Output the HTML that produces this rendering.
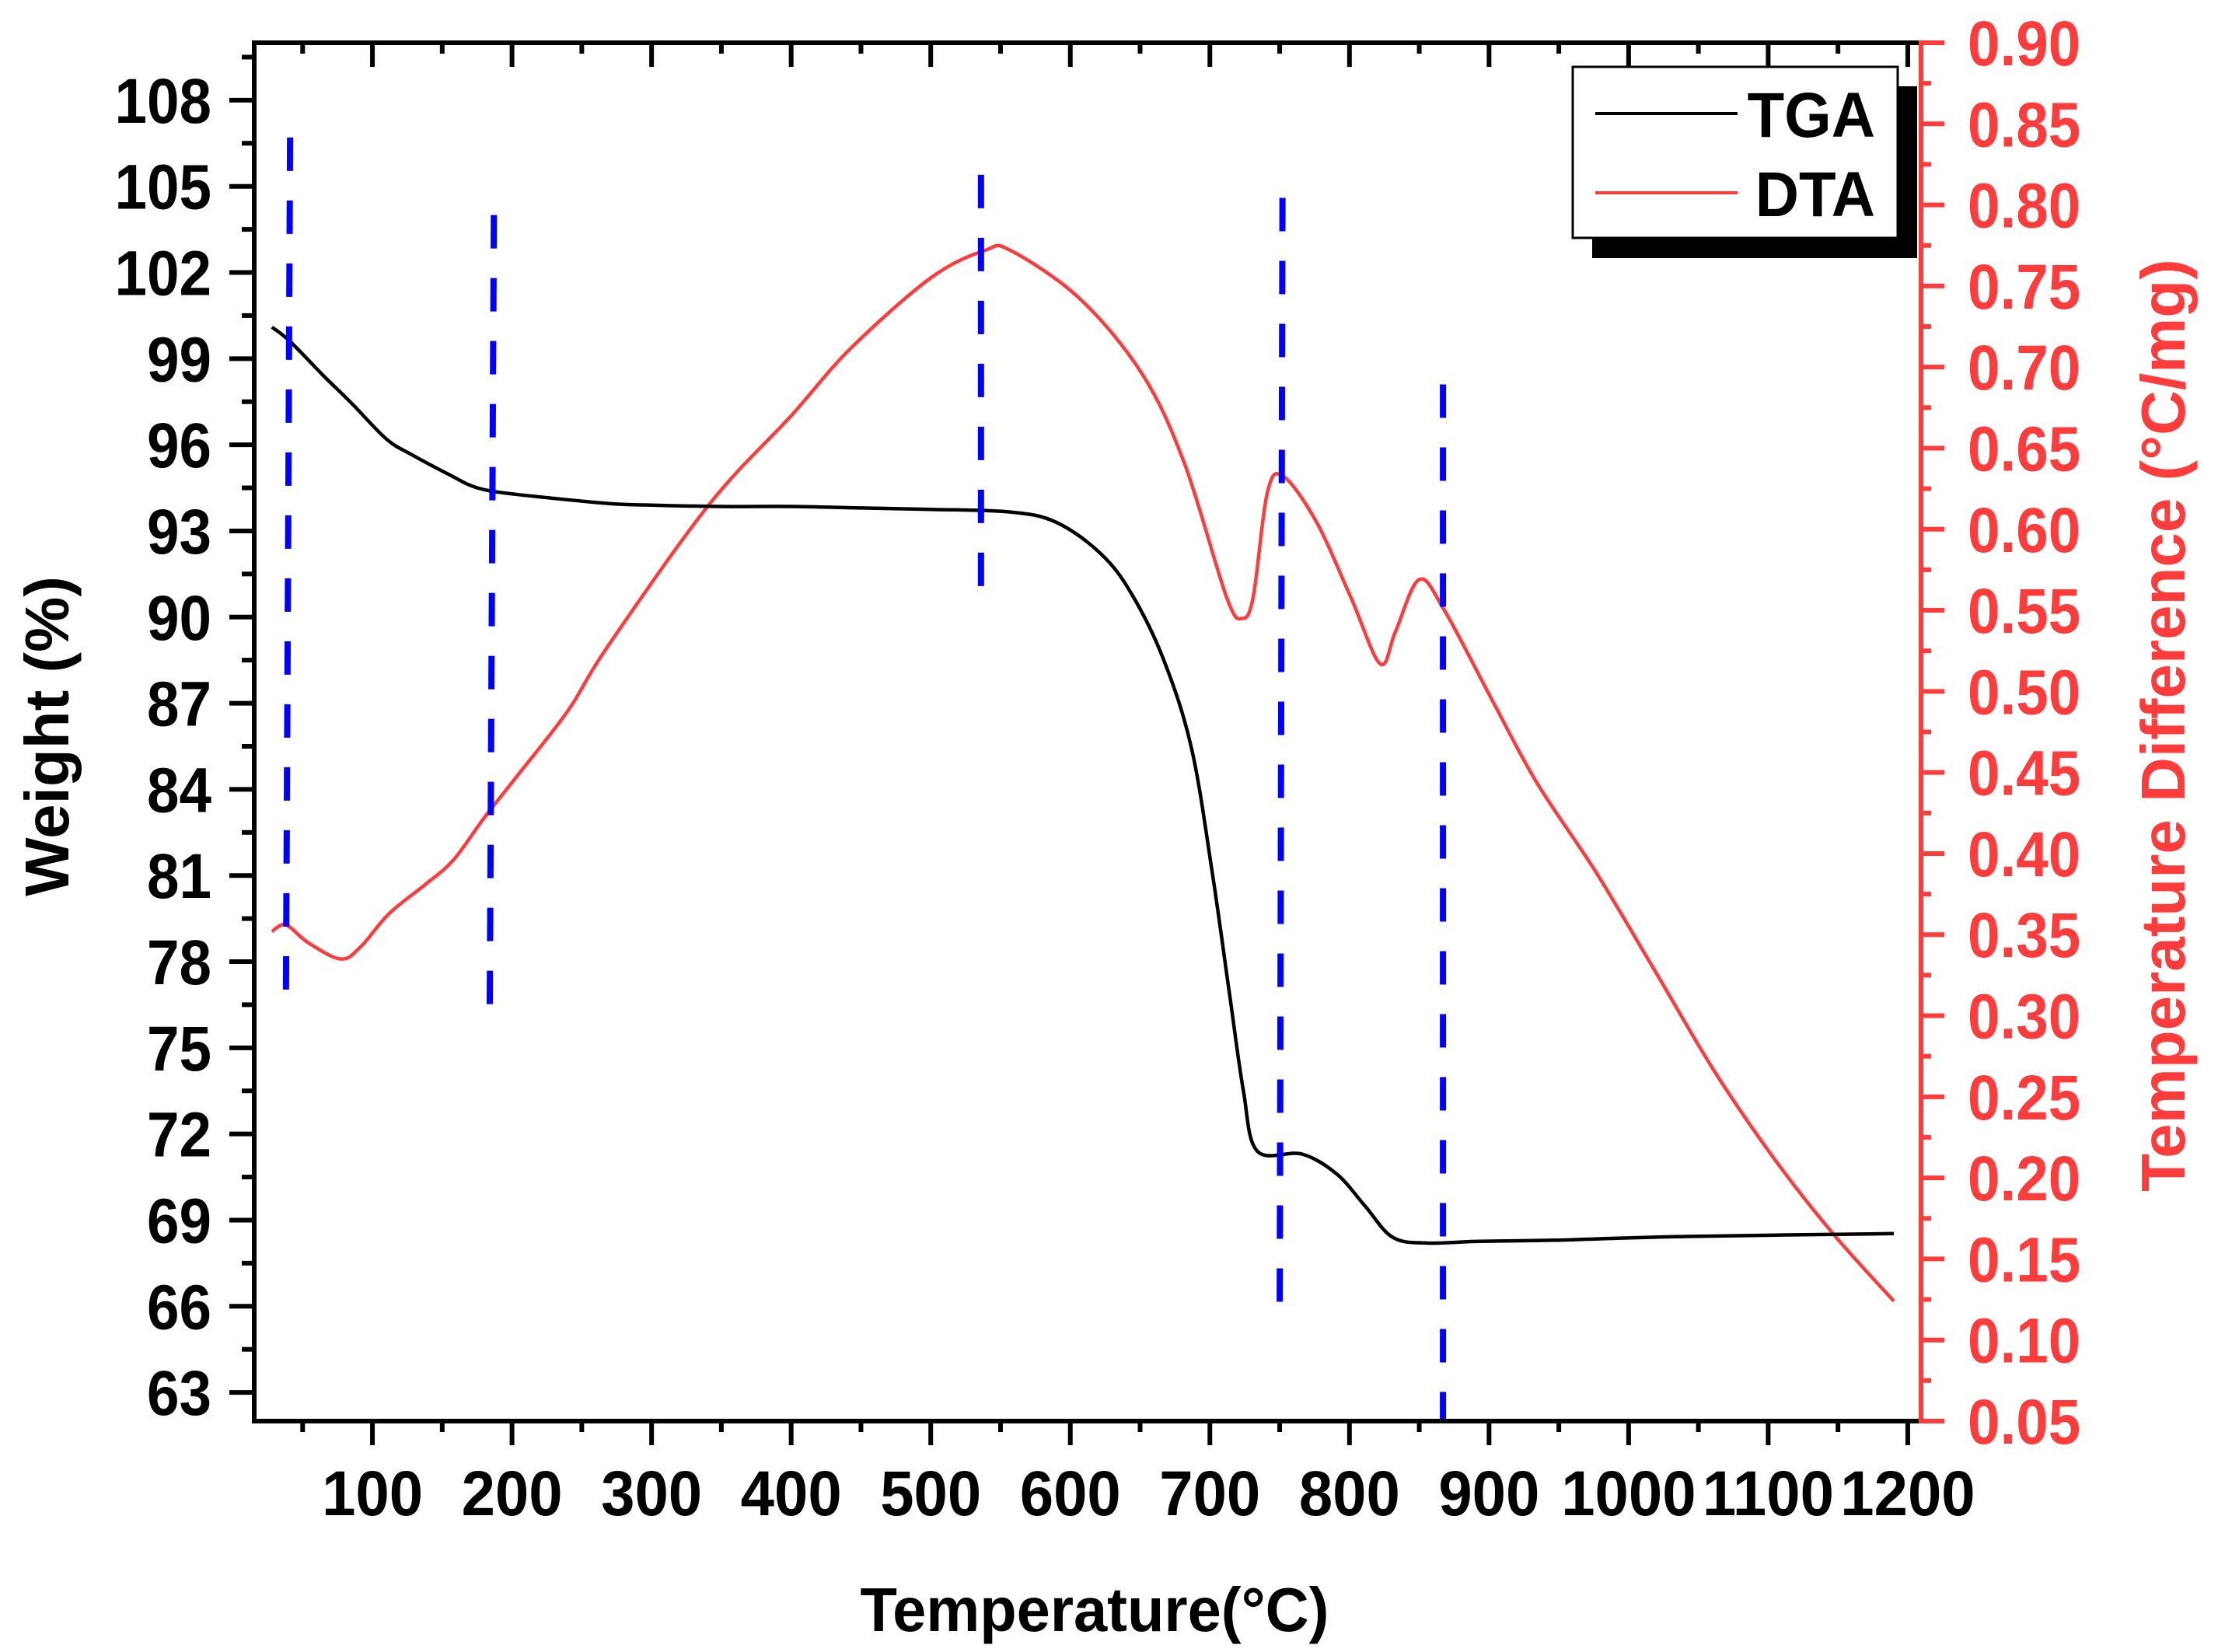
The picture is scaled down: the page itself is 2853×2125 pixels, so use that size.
<!DOCTYPE html>
<html><head><meta charset="utf-8"><style>
html,body{margin:0;padding:0;background:#fff;}
svg{display:block;font-family:"Liberation Sans",Arial,sans-serif;font-weight:bold;}
</style></head><body>
<svg id="chart" width="2853" height="2125" viewBox="0 0 2853 2125" xmlns="http://www.w3.org/2000/svg">
<g id="plot"></g>
</svg>
<script>
// ---- data ----
const tgaTemp = [28,41,65,85,110,128,155,175,202,268,300,350,400,450,500,557,590,622,644,667,687,702,714,724,734,766,791,811,831,856,892,947,1041,1190];
const tgaWeight = [100.1,99.6,98.4,97.45,96.2,95.66,94.96,94.5,94.28,93.96,93.9,93.85,93.85,93.8,93.75,93.66,93.3,92.2,90.8,88.5,85.4,81.0,76.9,73.5,71.4,71.3,70.6,69.5,68.4,68.2,68.26,68.3,68.43,68.53];
const dtaTemp = [28,38,54,77,91,112,138,158,180,202,240,268,341,400,442,500,539,557,607,652,682,712,723,731,741,752,776,801,822,833,850,868,902,934,977,1020,1062,1105,1147,1190];
const dtaValue = [0.352,0.356,0.345,0.335,0.342,0.363,0.381,0.396,0.422,0.446,0.488,0.527,0.615,0.67,0.711,0.755,0.772,0.772,0.742,0.695,0.640,0.558,0.545,0.558,0.622,0.633,0.605,0.558,0.517,0.537,0.569,0.550,0.495,0.444,0.388,0.326,0.265,0.211,0.165,0.124];
const markerTempTop = [41,187,536,752,867];
const markerTempBottom = [38,184,536,750,867];
const markerWTop = [106.7,104.0,105.4,104.6,98.1];
const markerWBottom = [76.5,76.0,90.9,65.5,62.0];
const xTicks = [100,200,300,400,500,600,700,800,900,1000,1100,1200];
const yLeftTicks = [63,66,69,72,75,78,81,84,87,90,93,96,99,102,105,108];
const yRightTicks = ["0.05","0.10","0.15","0.20","0.25","0.30","0.35","0.40","0.45","0.50","0.55","0.60","0.65","0.70","0.75","0.80","0.85","0.90"];
const legendLabels = ["TGA","DTA"];

// ---- layout ----
const L=327,R=2471,T=55,B=1828;
const XMIN=15.3,XMAX=1209.5,YMIN=62,YMAX=110,RMIN=0.05,RMAX=0.90;
const RED="#fe3c3c";
const sx=v=>L+(v-XMIN)/(XMAX-XMIN)*(R-L);
const sy=v=>B-(v-YMIN)/(YMAX-YMIN)*(B-T);
const sr=v=>B-(v-RMIN)/(RMAX-RMIN)*(B-T);
const NS="http://www.w3.org/2000/svg";
const g=document.getElementById('plot');
function el(tag,attrs){const e=document.createElementNS(NS,tag);for(const k in attrs)e.setAttribute(k,attrs[k]);g.appendChild(e);return e;}
function txt(x,y,s,anchor,size,color,sc){const e=el('text',{transform:`translate(${x},${y}) scale(${sc},1)`,'text-anchor':anchor,'font-size':size,fill:color});e.textContent=s;return e;}
function smooth(pts){
  let d='M'+pts[0][0].toFixed(1)+','+pts[0][1].toFixed(1);
  for(let i=0;i<pts.length-1;i++){
    const p0=pts[Math.max(0,i-1)],p1=pts[i],p2=pts[i+1],p3=pts[Math.min(pts.length-1,i+2)];
    const k=1/6;
    const c1=[p1[0]+(p2[0]-p0[0])*k,p1[1]+(p2[1]-p0[1])*k];
    const c2=[p2[0]-(p3[0]-p1[0])*k,p2[1]-(p3[1]-p1[1])*k];
    d+=`C${c1[0].toFixed(1)},${c1[1].toFixed(1)} ${c2[0].toFixed(1)},${c2[1].toFixed(1)} ${p2[0].toFixed(1)},${p2[1].toFixed(1)}`;
  }
  return d;
}

// DTA curve
const dta=el('path',{d:smooth(dtaTemp.map((t,i)=>[sx(t),sr(dtaValue[i])])),fill:'none',stroke:RED,'stroke-width':4.5,'stroke-linejoin':'round'});


// TGA curve
const tga=el('path',{d:smooth(tgaTemp.map((t,i)=>[sx(t),sy(tgaWeight[i])])),fill:'none',stroke:'#000','stroke-width':4.5,'stroke-linejoin':'round'});


// markers
markerTempTop.forEach((t,i)=>{
  const m=el('line',{x1:sx(t),y1:sy(markerWTop[i]),x2:sx(markerTempBottom[i]),y2:sy(markerWBottom[i]),stroke:'#0000ff','stroke-width':8,'stroke-dasharray':'43 38'});
  
  
});
// axes frame
const ax=el('path',{d:`M${L},${B}L${L},${T}L${R},${T}M${L-3},${B}L${R},${B}`,fill:'none',stroke:'#000','stroke-width':6});


const ra=el('line',{x1:R,y1:T-3,x2:R,y2:B+3,stroke:RED,'stroke-width':6});


// x ticks
for(let v=50;v<=1200;v+=50){
  const x=sx(v),maj=v%100===0,len=maj?31:14;
  el('line',{x1:x,y1:B,x2:x,y2:B+len,stroke:'#000','stroke-width':6});
  el('line',{x1:x,y1:T,x2:x,y2:T+len,stroke:'#000','stroke-width':6});
}
xTicks.forEach(v=>{const t=txt(sx(v),1949,String(v),'middle',82,'#000',0.95);
  
  });
// left ticks
for(let v=63;v<=109.5;v+=1.5){
  const y=sy(v),maj=Math.abs((v-63)%3)<1e-6,len=maj?32:16;
  el('line',{x1:L-len,y1:y,x2:L,y2:y,stroke:'#000','stroke-width':6});
}
yLeftTicks.forEach(v=>{const t=txt(272,sy(v)+29,String(v),'end',82,'#000',0.91);
  
  });
// right ticks
for(let k=0;k<=34;k++){
  const v=0.05+k*0.025,y=sr(v),len=k%2===0?30:13;
  el('line',{x1:R,y1:y,x2:R+len,y2:y,stroke:RED,'stroke-width':6});
}
yRightTicks.forEach(s=>{const t=txt(2531,sr(parseFloat(s))+29,s,'start',82,RED,0.91);
  
  });
// titles
const xt=txt(1408,2098,'Temperature(°C)','middle',80,'#000',0.97);


const yt=el('text',{transform:'translate(88,947) rotate(-90)','text-anchor':'middle','font-size':80,fill:'#000'});yt.textContent='Weight (%)';


const rt=el('text',{transform:'translate(2810,933) rotate(-90)','text-anchor':'middle','font-size':80,fill:RED});rt.textContent='Temperature Difference (°C/mg)';


// legend
const sh=el('rect',{x:2048,y:111,width:418,height:221,fill:'#000'});


const lb=el('rect',{x:2023,y:86,width:418,height:220,fill:'#fff',stroke:'#000','stroke-width':3});


const legColors=['#000',RED];
legendLabels.forEach((s,i)=>{
  const y=146+i*102;
  const ln=el('line',{x1:2052,y1:y,x2:2235,y2:y,stroke:legColors[i],'stroke-width':4});
  
  
  const t=txt(2412,y+30,s,'end',82,'#000',0.95);
  
  
});
</script>
</body></html>
